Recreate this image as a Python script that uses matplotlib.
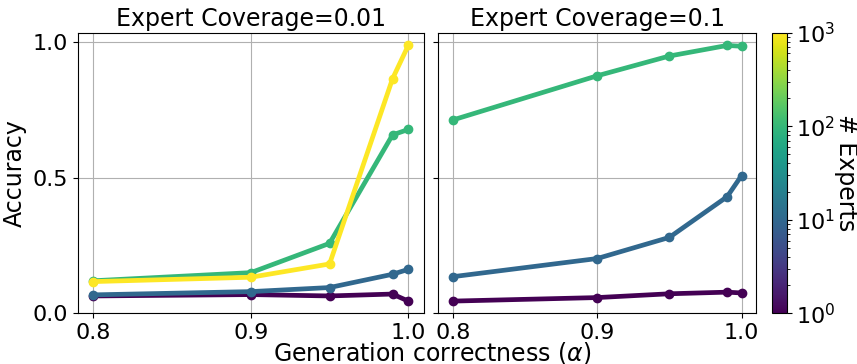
import matplotlib.pyplot as plt
import matplotlib.colors as mcolors
import matplotlib.cm as cm
import numpy as np

# generation correctness values
alpha = [0.8, 0.9, 0.95, 0.99, 1.0]

# coverage = 0.01
n_experts_001 = [1, 10, 100, 1000]
acc_001 = [
    [0.064, 0.069, 0.064, 0.071, 0.045],
    [0.068, 0.080, 0.095, 0.144, 0.162],
    [0.120, 0.150, 0.258, 0.658, 0.678],
    [0.117, 0.133, 0.182, 0.865, 0.988],
]

# coverage = 0.1
n_experts_01 = [1, 10, 100]
acc_01 = [
    [0.045, 0.058, 0.072, 0.078, 0.075],
    [0.135, 0.202, 0.280, 0.430, 0.508],
    [0.713, 0.876, 0.949, 0.988, 0.985],
]

coverages = ["0.01", "0.1"]

plt.rcParams['font.size'] = 16

fig = plt.figure(figsize=(8.57, 3.64), dpi=100)
ax1 = fig.add_axes([77.7 / 857, 1 - 313.3 / 364, (424 - 77.7) / 857, (313.3 - 32.7) / 364])
ax2 = fig.add_axes([438.3 / 857, 1 - 313.3 / 364, (756 - 438.3) / 857, (313.3 - 32.7) / 364], sharey=ax1)
cax = fig.add_axes([771.7 / 857, 1 - 313.3 / 364, 15 / 857, (313.3 - 32.7) / 364])

norm = mcolors.LogNorm(vmin=1, vmax=1000)
cmap = plt.get_cmap('viridis')

for ax, ns, accs, cov in [(ax1, n_experts_001, acc_001, coverages[0]),
                          (ax2, n_experts_01, acc_01, coverages[1])]:
    for n, acc in zip(ns, accs):
        ax.plot(alpha, acc, '-o', color=cmap(norm(n)), lw=3.4, ms=6)
    ax.set_title("Expert Coverage=" + cov, fontsize=17, pad=5)
    ax.grid(True, color='#b0b0b0', lw=0.8)
    ax.set_axisbelow(True)
    ax.set_xticks([0.8, 0.9, 1.0])

ax1.set_ylim(0, 1.035)
ax1.set_yticks([0.0, 0.5, 1.0])
ax1.set_ylabel("Accuracy", fontsize=17)
plt.setp(ax2.get_yticklabels(), visible=False)

sm = cm.ScalarMappable(norm=norm, cmap=cmap)
cb = fig.colorbar(sm, cax=cax)
cb.set_label("# Experts", rotation=270, labelpad=16, fontsize=17)

fig.text(0.504, -0.005, r"Generation correctness ($\alpha$)", ha='center', va='bottom', fontsize=17)

fig.savefig("out.png", dpi=100)
